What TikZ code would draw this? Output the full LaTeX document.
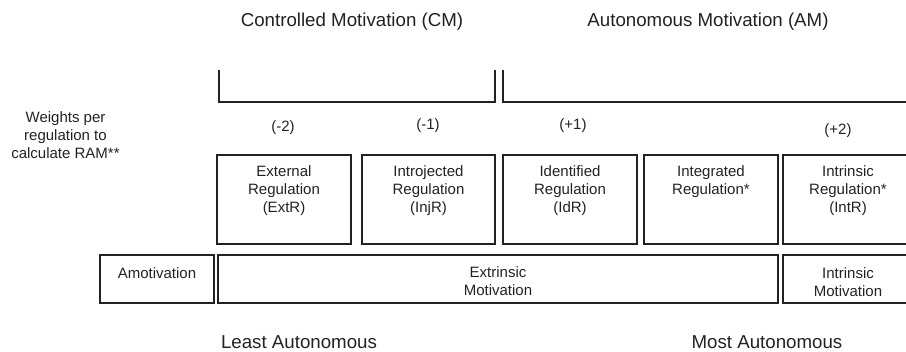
\documentclass[tikz,border=0pt]{standalone}
\usepackage{fontspec}
\setmainfont{Liberation Sans}
\definecolor{ink}{HTML}{222222}
\begin{document}
\begin{tikzpicture}[x=1pt,y=-1pt,
  big/.style={font=\fontsize{18.7}{22}\selectfont, text=ink, inner sep=0pt},
  small/.style={font=\fontsize{15}{18}\selectfont, text=ink, inner sep=0pt, align=center},
  boxr/.style={draw=ink, line width=1.8pt},
  brk/.style={draw=ink, line width=2pt}]
\useasboundingbox (0,0) rectangle (906,352);
\clip (0,0) rectangle (906,352);
% headings
\node[big] (cm) at (352,22) {Controlled Motivation (CM)};
\node[big] (am) at (708,22) {Autonomous Motivation (AM)};
% brackets
\coordinate (cma) at (219,70);
\coordinate (cmb) at (219,102);
\coordinate (cmc) at (494.5,102);
\coordinate (cmd) at (494.5,70);
\draw[brk] (cma) -- (cmb) -- (cmc) -- (cmd);
\coordinate (ama) at (503,70);
\coordinate (amb) at (503,102);
\coordinate (amc) at (920,102);
\draw[brk] (ama) -- (amb) -- (amc);
% weights
\node[small] (wt) at (65.5,135) {Weights per\\regulation to\\calculate RAM**};
\node[small] (w1) at (283,128) {(-2)};
\node[small] (w2) at (428,126) {(-1)};
\node[small] (w3) at (573,126) {(+1)};
\node[small] (w4) at (838,131) {(+2)};
% top boxes
\draw[boxr] (217,155) rectangle (351,244);
\draw[boxr] (362,155) rectangle (495,244);
\draw[boxr] (503,155) rectangle (637,244);
\draw[boxr] (644,155) rectangle (778,244);
\draw[boxr] (783,155) rectangle (930,244);
\node[small] (ext) at (284,191) {External\\Regulation\\(ExtR)};
\node[small] (inj) at (428.5,191) {Introjected\\Regulation\\(InjR)};
\node[small] (idr) at (570,191) {Identified\\Regulation\\(IdR)};
\node[small] (intg) at (711,182) {Integrated\\Regulation*};
\node[small] (intr) at (848,191) {Intrinsic\\Regulation*\\(IntR)};
% bottom boxes
\draw[boxr] (100,255) rectangle (214,303);
\draw[boxr] (218,255) rectangle (778,303);
\draw[boxr] (783,255) rectangle (930,303);
\node[small] (amo) at (157,273) {Amotivation};
\node[small] (exm) at (498,281) {Extrinsic\\Motivation};
\node[small] (inm) at (848,282) {Intrinsic\\Motivation};
% axis labels
\node[big] (least) at (299,342.5) {Least Autonomous};
\node[big] (most) at (767,342.5) {Most Autonomous};
\end{tikzpicture}
\end{document}
